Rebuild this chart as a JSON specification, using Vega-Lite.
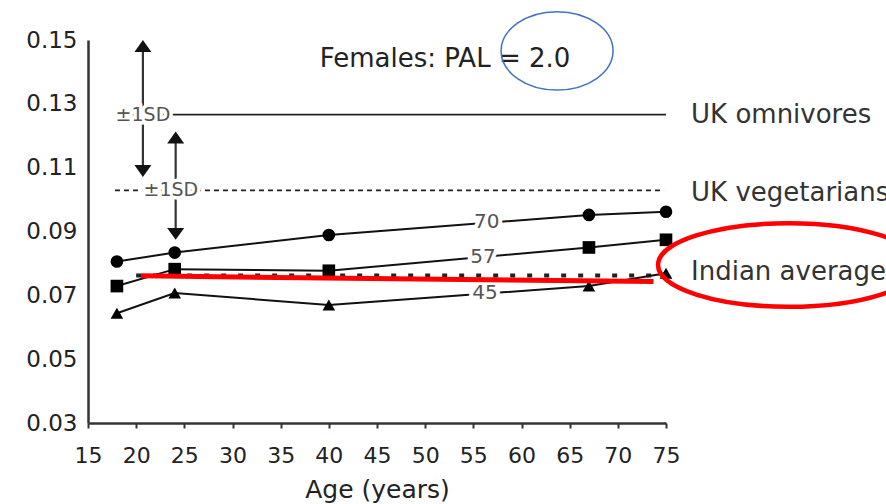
{
  "$schema": "https://vega.github.io/schema/vega-lite/v6.json",
  "width": 578,
  "height": 383,
  "autosize": "none",
  "padding": {"left": 88, "top": 40, "right": 220, "bottom": 81},
  "background": "white",
  "config": {"view": {"stroke": null}, "font": "DejaVu Sans"},
  "datasets": {
    "series": [
      {"group": "70", "age": 18, "value": 0.0806},
      {"group": "70", "age": 24, "value": 0.0834},
      {"group": "70", "age": 40, "value": 0.0889},
      {"group": "70", "age": 67, "value": 0.0952},
      {"group": "70", "age": 75, "value": 0.0962},
      {"group": "57", "age": 18, "value": 0.0729},
      {"group": "57", "age": 24, "value": 0.0782},
      {"group": "57", "age": 40, "value": 0.0777},
      {"group": "57", "age": 67, "value": 0.0850},
      {"group": "57", "age": 75, "value": 0.0874},
      {"group": "45", "age": 18, "value": 0.0644},
      {"group": "45", "age": 24, "value": 0.0707},
      {"group": "45", "age": 40, "value": 0.0670},
      {"group": "45", "age": 67, "value": 0.0729},
      {"group": "45", "age": 75, "value": 0.0769}
    ],
    "omni": [{"age": 18.3, "value": 0.1266}, {"age": 75, "value": 0.1266}],
    "veg": [{"age": 17.8, "value": 0.1029}, {"age": 74.8, "value": 0.1029}],
    "indian": [{"age": 20, "value": 0.0762}, {"age": 75, "value": 0.0762}],
    "red": [{"age": 20.5, "value": 0.0761}, {"age": 73.7, "value": 0.0743}],
    "shafts": [
      {"age": 20.7, "value": 0.1475, "value2": 0.1095},
      {"age": 24.1, "value": 0.1195, "value2": 0.0895}
    ],
    "headsUp": [
      {"age": 20.7, "value": 0.1500},
      {"age": 24.1, "value": 0.1213}
    ],
    "headsDown": [
      {"age": 20.7, "value": 0.1071},
      {"age": 24.1, "value": 0.0874}
    ],
    "sd": [
      {"age": 20.7, "value": 0.1266, "label": "±1SD"},
      {"age": 23.6, "value": 0.1029, "label": "±1SD"}
    ],
    "nums": [
      {"age": 56.4, "value": 0.0931, "label": "70"},
      {"age": 56.0, "value": 0.0821, "label": "57"},
      {"age": 56.2, "value": 0.0708, "label": "45"}
    ],
    "right": [
      {"age": 77.6, "value": 0.1266, "label": "UK omnivores"},
      {"age": 77.6, "value": 0.1021, "label": "UK vegetarians"},
      {"age": 77.6, "value": 0.0774, "label": "Indian average"}
    ],
    "title": [{"age": 52.06, "value": 0.1442, "label": "Females: PAL = 2.0"}],
    "blue": [{"age": 63.69, "value": 0.1466}],
    "redring": [{"age": 87.73, "value": 0.0795}]
  },
  "encoding": {
    "x": {
      "field": "age",
      "type": "quantitative",
      "scale": {"domain": [15, 75], "nice": false, "zero": false},
      "axis": {
        "values": [15, 20, 25, 30, 35, 40, 45, 50, 55, 60, 65, 70, 75],
        "grid": false,
        "title": "Age (years)",
        "titleFontSize": 25,
        "titleFontWeight": "normal",
        "titleColor": "#222",
        "titlePadding": 11,
        "labelFontSize": 22,
        "labelColor": "#222",
        "labelPadding": 17,
        "labelFlush": false,
        "labelOverlap": false,
        "tickSize": 5,
        "tickWidth": 2,
        "tickColor": "#333",
        "domainColor": "#333",
        "domainWidth": 2.5
      }
    },
    "y": {
      "field": "value",
      "type": "quantitative",
      "scale": {"domain": [0.03, 0.15], "nice": false, "zero": false},
      "axis": {
        "values": [0.03, 0.05, 0.07, 0.09, 0.11, 0.13, 0.15],
        "format": ".2f",
        "grid": false,
        "title": null,
        "labelFontSize": 23,
        "labelColor": "#222",
        "labelPadding": 11,
        "labelFlush": false,
        "labelOverlap": false,
        "ticks": false,
        "domainColor": "#333",
        "domainWidth": 2.5
      }
    }
  },
  "layer": [
    {"data": {"name": "omni"}, "mark": {"type": "line", "color": "#222", "strokeWidth": 1.8}},
    {"data": {"name": "veg"}, "mark": {"type": "line", "color": "#222", "strokeWidth": 1.8, "strokeDash": [5, 4]}},
    {"data": {"name": "indian"}, "mark": {"type": "line", "color": "#222", "strokeWidth": 4, "strokeDash": [5, 12]}},
    {
      "data": {"name": "series"},
      "mark": {"type": "line", "color": "#111", "strokeWidth": 2},
      "encoding": {"detail": {"field": "group"}}
    },
    {
      "data": {"name": "series"},
      "mark": {"type": "point", "filled": true, "color": "#000", "opacity": 1, "size": 160},
      "encoding": {
        "shape": {
          "field": "group",
          "scale": {"domain": ["70", "57", "45"], "range": ["circle", "square", "triangle-up"]},
          "legend": null
        }
      }
    },
    {
      "data": {"name": "shafts"},
      "mark": {"type": "rule", "color": "#333", "strokeWidth": 2.2},
      "encoding": {"y2": {"field": "value2"}}
    },
    {
      "data": {"name": "headsUp"},
      "mark": {"type": "point", "filled": true, "color": "#111", "opacity": 1, "size": 289, "shape": "M0,0L-1,1.4L1,1.4Z"}
    },
    {
      "data": {"name": "headsDown"},
      "mark": {"type": "point", "filled": true, "color": "#111", "opacity": 1, "size": 289, "shape": "M0,0L-1,-1.4L1,-1.4Z"}
    },
    {
      "data": {"name": "sd"},
      "mark": {"type": "text", "fontSize": 19, "stroke": "white", "strokeWidth": 7, "color": "white", "align": "center", "baseline": "middle"},
      "encoding": {"text": {"field": "label"}}
    },
    {
      "data": {"name": "sd"},
      "mark": {"type": "text", "fontSize": 19, "color": "#555", "align": "center", "baseline": "middle"},
      "encoding": {"text": {"field": "label"}}
    },
    {
      "data": {"name": "nums"},
      "mark": {"type": "text", "fontSize": 20, "stroke": "white", "strokeWidth": 8, "color": "white", "align": "center", "baseline": "middle"},
      "encoding": {"text": {"field": "label"}}
    },
    {
      "data": {"name": "nums"},
      "mark": {"type": "text", "fontSize": 20, "color": "#555", "align": "center", "baseline": "middle"},
      "encoding": {"text": {"field": "label"}}
    },
    {
      "data": {"name": "red"},
      "mark": {"type": "line", "color": "#FF0000", "strokeWidth": 5}
    },
    {
      "data": {"name": "right"},
      "mark": {"type": "text", "fontSize": 26, "color": "#333", "align": "left", "baseline": "middle"},
      "encoding": {"text": {"field": "label"}}
    },
    {
      "data": {"name": "title"},
      "mark": {"type": "text", "fontSize": 26, "color": "#222", "align": "center", "baseline": "middle"},
      "encoding": {"text": {"field": "label"}}
    },
    {
      "data": {"name": "blue"},
      "mark": {"type": "point", "filled": false, "stroke": "#4472C4", "strokeWidth": 1.5, "opacity": 1, "size": 12544, "shape": "M-1,0A1,0.7 0 1,0 1,0A1,0.7 0 1,0 -1,0"}
    },
    {
      "data": {"name": "redring"},
      "mark": {"type": "point", "filled": false, "stroke": "#FF0000", "strokeWidth": 4.5, "opacity": 1, "size": 68225, "shape": "M-1,0A1,0.32 0 1,0 1,0A1,0.32 0 1,0 -1,0"}
    }
  ]
}
